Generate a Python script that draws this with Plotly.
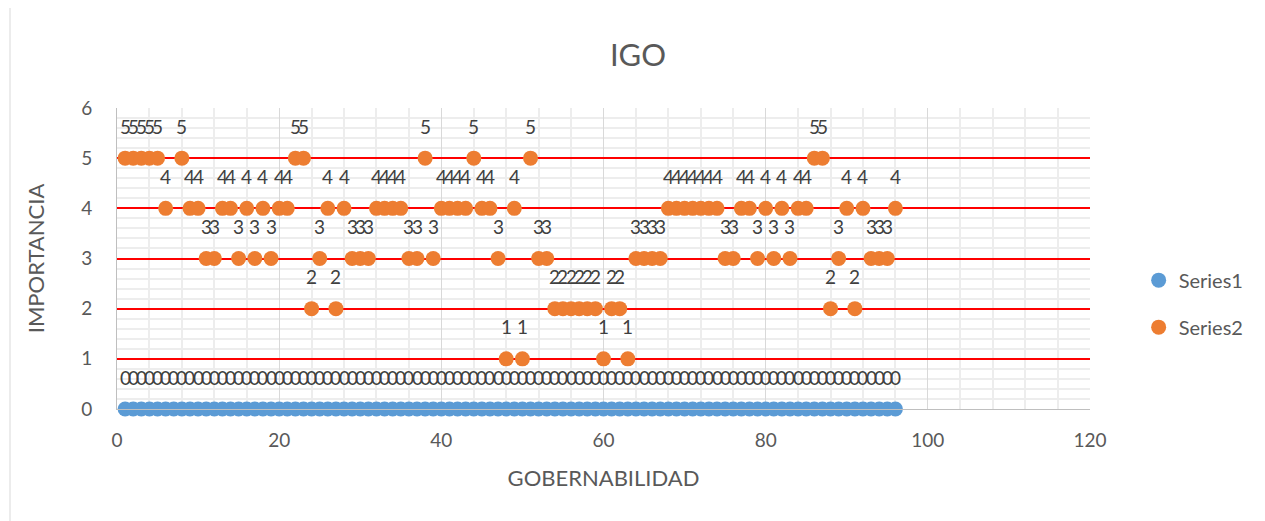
import plotly.graph_objects as go

# ---- data ----
x_values = list(range(1, 97))
series1_values = [0] * 96
series2_values = [
    5, 5, 5, 5, 5, 4, None, 5, 4, 4,      # 1-10
    3, 3, 4, 4, 3, 4, 3, 4, 3, 4,         # 11-20
    4, 5, 5, 2, 3, 4, 2, 4, 3, 3,         # 21-30
    3, 4, 4, 4, 4, 3, 3, 5, 3, 4,         # 31-40
    4, 4, 4, 5, 4, 4, 3, 1, 4, 1,         # 41-50
    5, 3, 3, 2, 2, 2, 2, 2, 2, 1,         # 51-60
    2, 2, 1, 3, 3, 3, 3, 4, 4, 4,         # 61-70
    4, 4, 4, 4, 3, 3, 4, 4, 3, 4,         # 71-80
    3, 4, 3, 4, 4, 5, 5, 2, 3, 4,         # 81-90
    2, 4, 3, 3, 3, 4,                     # 91-96
]
series_names = ["Series1", "Series2"]
title_text = "IGO"
x_title = "GOBERNABILIDAD"
y_title = "IMPORTANCIA"

FONT = "Lato"
TXT = "#595959"
LBL = "#404040"

fig = go.Figure()
fig.add_trace(go.Scatter(
    x=x_values, y=series1_values, mode="markers", name=series_names[0],
    marker=dict(color="#5B9BD5", size=15, line=dict(width=0)),
    legendgroup="a", cliponaxis=False,
))
fig.add_trace(go.Scatter(
    x=x_values, y=series2_values, mode="markers", name=series_names[1],
    marker=dict(color="#ED7D31", size=15, line=dict(width=0)),
    legendgroup="b",
))

annotations = []
for xv, yv in zip(x_values, series1_values):
    annotations.append(dict(x=xv, y=yv, text=str(yv), showarrow=False,
                            yshift=32, font=dict(family=FONT, size=19, color=LBL)))
for xv, yv in zip(x_values, series2_values):
    if yv is None:
        continue
    annotations.append(dict(x=xv, y=yv, text=str(yv), showarrow=False,
                            yshift=32, font=dict(family=FONT, size=19, color=LBL)))

fig.update_layout(
    width=1265, height=521,
    paper_bgcolor="white", plot_bgcolor="white",
    margin=dict(l=109, r=183, t=100, b=120),
    font=dict(family=FONT, color=TXT),
    title=dict(text=title_text, x=630 / 1265, xref="container", xanchor="center",
               y=1 - 47 / 521, yref="container", yanchor="middle",
               font=dict(family=FONT, size=31, color=TXT)),
    xaxis=dict(
        range=[0, 120], dtick=20, tick0=0,
        showgrid=True, gridcolor="#D9D9D9", gridwidth=1,
        minor=dict(dtick=4, showgrid=True, gridcolor="#EDEDED", gridwidth=1.5),
        showline=True, linecolor="#BFBFBF", linewidth=1,
        zeroline=False, ticks="", ticklabelstandoff=14,
        tickfont=dict(family=FONT, size=19, color=TXT),
        title=dict(text=x_title, standoff=20, font=dict(family=FONT, size=22, color=TXT)),
    ),
    yaxis=dict(
        range=[0, 6], dtick=1, tick0=0,
        showgrid=True, gridcolor="#FF0000", gridwidth=2,
        minor=dict(dtick=0.2, showgrid=True, gridcolor="#EDEDED", gridwidth=1.5),
        showline=True, linecolor="#BFBFBF", linewidth=1,
        zeroline=False, ticks="", ticklabelstandoff=20,
        tickfont=dict(family=FONT, size=19, color=TXT),
        title=dict(text=y_title, standoff=30, font=dict(family=FONT, size=22, color=TXT)),
    ),
    legend=dict(x=1.05, y=0.35, xanchor="left", yanchor="middle",
                font=dict(family=FONT, size=20, color=TXT),
                tracegroupgap=18, bgcolor="rgba(0,0,0,0)"),
    annotations=annotations,
    shapes=[dict(type="line", xref="paper", yref="paper",
                 x0=(10 - 117) / 973, x1=(10 - 117) / 973, y0=-0.5, y1=1.5,
                 line=dict(color="#D9D9D9", width=1))],
)

fig.write_html("out.html")
